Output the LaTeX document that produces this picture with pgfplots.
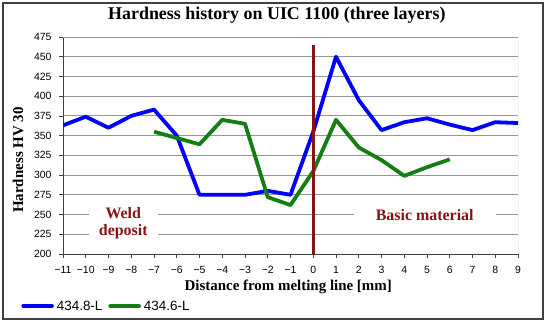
\documentclass[border=0pt]{standalone}
\usepackage{fontspec}
\setmainfont{Liberation Sans}
\newfontfamily\serifb{Liberation Serif}
\usepackage{pgfplots}
\pgfplotsset{compat=1.18}
\definecolor{bl}{RGB}{0,0,255}
\definecolor{gr}{RGB}{20,125,20}
\definecolor{dred}{RGB}{135,20,20}
\definecolor{gridc}{RGB}{150,150,150}
\begin{document}
\begin{tikzpicture}[x=1bp,y=1bp]
\useasboundingbox (-63,-73) rectangle (487,254);
\draw[line width=1.4bp, black!75] (-60,-65) rectangle (480,251);
\begin{axis}[
  at={(0,0)}, anchor=south west,
  scale only axis, width=455bp, height=217bp,
  xmin=-11, xmax=9, ymin=200, ymax=475,
  xtick={-11,...,9},
  xticklabels={−11,−10,−9,−8,−7,−6,−5,−4,−3,−2,−1,0,1,2,3,4,5,6,7,8,9},
  ytick={200,225,...,475},
  /pgf/number format/assume math mode=true,
  ticklabel style={font=\fontsize{10.5}{12}\selectfont},
  xticklabel style={yshift=-5bp},
  yticklabel style={xshift=-4bp},
  ymajorgrids, grid style={gridc, line width=0.9bp},
  axis line style={black!75, line width=0.8bp},
  tick style={black!75, line width=0.8bp},
  xtick align=outside, ytick align=outside,
  major tick length=4bp,
  xtick pos=bottom, ytick pos=left,
  axis x line*=bottom, axis y line*=left,
  title={\serifb\bfseries\fontsize{18}{20}\selectfont Hardness history on UIC 1100 (three layers)},
  title style={at={(axis description cs:0.47,1)}, anchor=center, yshift=16bp},
  xlabel={\serifb\bfseries\fontsize{15}{17}\selectfont Distance from melting line [mm]},
  ylabel={\serifb\bfseries\fontsize{15}{17}\selectfont Hardness HV 30},
  xlabel style={at={(axis description cs:0.495,-0.152)}, anchor=center},
  ylabel style={at={(axis description cs:-0.099,0.433)}, anchor=center},
  legend columns=2,
  legend style={at={(axis description cs:-0.092,-0.24)}, anchor=west, draw=none, fill=none,
    inner sep=0pt,
    font=\fontsize{13.5}{15}\selectfont, column sep=1pt,
    /tikz/every even column/.append style={column sep=4pt}},
  legend image code/.code={\draw[#1, line width=3.5bp, line cap=round] (0bp,0bp) -- (29bp,0bp);},
]
\draw[gridc, line width=0.9bp] (rel axis cs:1,0) -- (rel axis cs:1,1) -- (rel axis cs:0,1);
\node[fill=white, text=dred, align=center, inner xsep=10bp, inner ysep=1bp, font=\serifb\bfseries\fontsize{16}{17}\selectfont] at (axis cs:-8.35,238.6) {Weld\\deposit};
\node[fill=white, text=dred, inner xsep=22bp, inner ysep=1bp, font=\serifb\bfseries\fontsize{16}{17}\selectfont] at (axis cs:4.9,249) {Basic material};
\addplot[bl, line width=3.8bp, line join=round] coordinates {
(-11,363) (-10,374) (-9,360) (-8,375) (-7,383) (-6,350) (-5,275) (-4,275) (-3,275) (-2,280) (-1,275) (0,355) (1,450) (2,395) (3,357) (4,367) (5,372) (6,364) (7,357) (8,367) (9,366)};
\addlegendentry{434.8-L}
\addplot[gr, line width=3.8bp, line join=round] coordinates {
(-7,355) (-6,347) (-5,339) (-4,370) (-3,365) (-2,272) (-1,262) (0,305) (1,370) (2,335) (3,319) (4,299) (5,310) (6,320)};
\addlegendentry{434.6-L}
\addplot[dred, line width=3bp, forget plot] coordinates {(0,200) (0,465)};
\end{axis}
\end{tikzpicture}
\end{document}
